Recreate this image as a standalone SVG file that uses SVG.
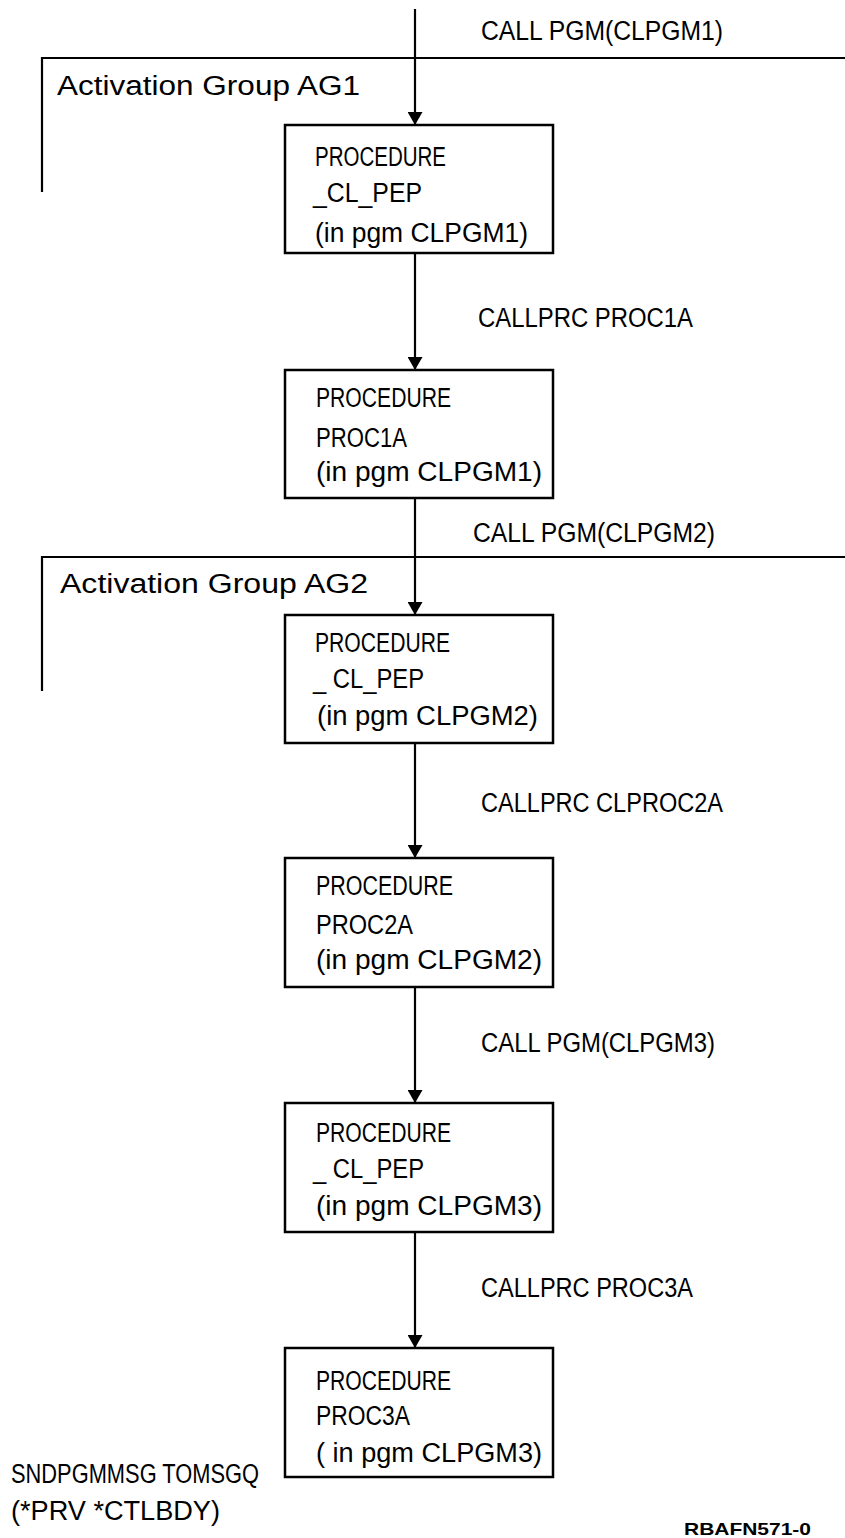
<svg xmlns="http://www.w3.org/2000/svg" width="845" height="1538" viewBox="0 0 845 1538">
<style>
  .t { font-family: "Liberation Sans", Arial, sans-serif; font-size: 27px; fill: #000; }
  .box { fill: #fff; stroke: #000; stroke-width: 2.5; }
  .frame { fill: none; stroke: #000; stroke-width: 2.2; }
  .conn { stroke: #000; stroke-width: 2.2; fill: none; }
  .id { font-family: "Liberation Sans", Arial, sans-serif; font-size: 17px; font-weight: bold; fill: #000; }
</style>
<defs>
  <marker id="arrow" markerUnits="userSpaceOnUse" markerWidth="13" markerHeight="15" viewBox="0 0 13 15" refX="13" refY="7.5" orient="auto">
    <path d="M0,0 L13,7.5 L0,15 z" fill="#000"/>
  </marker>
</defs>
<rect width="845" height="1538" fill="#fff"/>

<g id="group-AG1">
  <polyline class="frame" points="42,192 42,58 845,58"/>
  <text class="t" x="57" y="95" textLength="303" lengthAdjust="spacingAndGlyphs">Activation Group AG1</text>
</g>
<g id="group-AG2">
  <polyline class="frame" points="42,691 42,557 845,557"/>
  <text class="t" x="60" y="593" textLength="308" lengthAdjust="spacingAndGlyphs">Activation Group AG2</text>
</g>

<g id="connectors">
  <line class="conn" x1="415" y1="9" x2="415" y2="125" marker-end="url(#arrow)"/>
  <line class="conn" x1="415" y1="253" x2="415" y2="370" marker-end="url(#arrow)"/>
  <line class="conn" x1="415" y1="498" x2="415" y2="615" marker-end="url(#arrow)"/>
  <line class="conn" x1="415" y1="743" x2="415" y2="858" marker-end="url(#arrow)"/>
  <line class="conn" x1="415" y1="987" x2="415" y2="1103" marker-end="url(#arrow)"/>
  <line class="conn" x1="415" y1="1232" x2="415" y2="1348" marker-end="url(#arrow)"/>
  <text class="t" x="481" y="40" textLength="242" lengthAdjust="spacingAndGlyphs">CALL PGM(CLPGM1)</text>
  <text class="t" x="478" y="327" textLength="215" lengthAdjust="spacingAndGlyphs">CALLPRC PROC1A</text>
  <text class="t" x="473" y="542" textLength="242" lengthAdjust="spacingAndGlyphs">CALL PGM(CLPGM2)</text>
  <text class="t" x="481" y="812" textLength="242" lengthAdjust="spacingAndGlyphs">CALLPRC CLPROC2A</text>
  <text class="t" x="481" y="1052" textLength="234" lengthAdjust="spacingAndGlyphs">CALL PGM(CLPGM3)</text>
  <text class="t" x="481" y="1297" textLength="212" lengthAdjust="spacingAndGlyphs">CALLPRC PROC3A</text>
</g>

<g id="node-1">
  <rect class="box" x="285" y="125" width="268" height="128"/>
  <text class="t" x="315" y="166" textLength="131" lengthAdjust="spacingAndGlyphs">PROCEDURE</text>
  <text class="t" x="313" y="202" textLength="109" lengthAdjust="spacingAndGlyphs">_CL_PEP</text>
  <text class="t" x="315" y="242" textLength="213" lengthAdjust="spacingAndGlyphs">(in pgm CLPGM1)</text>
</g>
<g id="node-2">
  <rect class="box" x="285" y="370" width="268" height="128"/>
  <text class="t" x="316" y="407" textLength="135" lengthAdjust="spacingAndGlyphs">PROCEDURE</text>
  <text class="t" x="316" y="447" textLength="91" lengthAdjust="spacingAndGlyphs">PROC1A</text>
  <text class="t" x="316" y="481" textLength="226" lengthAdjust="spacingAndGlyphs">(in pgm  CLPGM1)</text>
</g>
<g id="node-3">
  <rect class="box" x="285" y="615" width="268" height="128"/>
  <text class="t" x="315" y="652" textLength="135" lengthAdjust="spacingAndGlyphs">PROCEDURE</text>
  <text class="t" x="313" y="688" textLength="111" lengthAdjust="spacingAndGlyphs">_ CL_PEP</text>
  <text class="t" x="317" y="725" textLength="221" lengthAdjust="spacingAndGlyphs">(in pgm CLPGM2)</text>
</g>
<g id="node-4">
  <rect class="box" x="285" y="858" width="268" height="129"/>
  <text class="t" x="316" y="895" textLength="137" lengthAdjust="spacingAndGlyphs">PROCEDURE</text>
  <text class="t" x="316" y="934" textLength="97" lengthAdjust="spacingAndGlyphs">PROC2A</text>
  <text class="t" x="316" y="969" textLength="226" lengthAdjust="spacingAndGlyphs">(in  pgm CLPGM2)</text>
</g>
<g id="node-5">
  <rect class="box" x="285" y="1103" width="268" height="129"/>
  <text class="t" x="316" y="1142" textLength="135" lengthAdjust="spacingAndGlyphs">PROCEDURE</text>
  <text class="t" x="313" y="1178" textLength="111" lengthAdjust="spacingAndGlyphs">_ CL_PEP</text>
  <text class="t" x="316" y="1215" textLength="226" lengthAdjust="spacingAndGlyphs">(in pgm CLPGM3)</text>
</g>
<g id="node-6">
  <rect class="box" x="285" y="1348" width="268" height="129"/>
  <text class="t" x="316" y="1390" textLength="135" lengthAdjust="spacingAndGlyphs">PROCEDURE</text>
  <text class="t" x="316" y="1425" textLength="94" lengthAdjust="spacingAndGlyphs">PROC3A</text>
  <text class="t" x="316" y="1462" textLength="226" lengthAdjust="spacingAndGlyphs">( in pgm CLPGM3)</text>
</g>

<g id="annotation">
  <text class="t" x="11" y="1483" textLength="248" lengthAdjust="spacingAndGlyphs">SNDPGMMSG TOMSGQ</text>
  <text class="t" x="11" y="1520" textLength="209" lengthAdjust="spacingAndGlyphs">(*PRV *CTLBDY)</text>
  <text class="id" x="684" y="1535" textLength="127" lengthAdjust="spacingAndGlyphs">RBAFN571-0</text>
</g>
</svg>
